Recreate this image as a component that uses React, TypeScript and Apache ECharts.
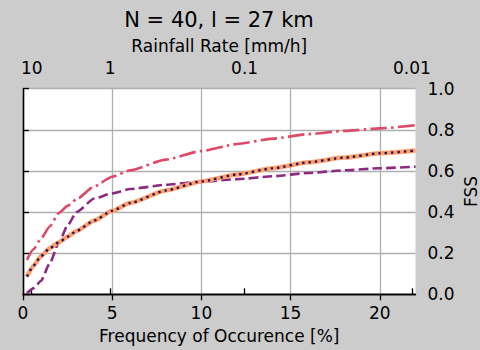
import React, { useEffect, useRef } from "react";
import * as echarts from "echarts";

// Frequency of occurrence [%] at each rain-rate threshold
const freq = [0.22, 0.6, 1.0, 1.5, 2.0, 2.5, 3.0, 4.0, 5.0, 6.0, 8.0, 10.0, 12.0, 14.0, 16.0, 18.0, 20.0, 22.0];

// FSS curves
const fssDashDot = [0.167, 0.22, 0.27, 0.33, 0.395, 0.43, 0.463, 0.525, 0.572, 0.603, 0.655, 0.697, 0.731, 0.757, 0.779, 0.795, 0.807, 0.822];
const fssDashed = [0.005, 0.03, 0.065, 0.15, 0.25, 0.335, 0.4, 0.466, 0.491, 0.512, 0.533, 0.548, 0.56, 0.574, 0.59, 0.603, 0.613, 0.621];
const fssSolid = [0.086, 0.14, 0.185, 0.224, 0.252, 0.28, 0.308, 0.359, 0.406, 0.444, 0.505, 0.549, 0.583, 0.613, 0.642, 0.665, 0.686, 0.699];

// Bottom axis ticks
const freqTicks = [0, 5, 10, 15, 20];

// Top axis: rain-rate labels and where they sit on the frequency scale
const rainTickLabels = ["10", "1", "0.1", "0.01"];
const rainTickPos = [0.49, 4.89, 12.42, 21.8];

const FONT = "DejaVu Sans";

const pairs = (ys: number[]) => freq.map((x, i) => [x, ys[i]]);

export default function App() {
  const ref = useRef<HTMLDivElement>(null);

  useEffect(() => {
    if (!ref.current) return;
    const chart = echarts.init(ref.current, undefined, { renderer: "svg", width: 480, height: 350 });

    const axisLine = { show: true, lineStyle: { color: "#000", width: 1.3 } };
    const axisTick = { show: true, inside: false, length: 6, lineStyle: { color: "#000", width: 1.3 } };
    const label = { color: "#000", fontFamily: FONT, fontSize: 17 };
    const nameStyle = { color: "#000", fontFamily: FONT, fontSize: 17 };
    const gridLine = { show: true, lineStyle: { color: "#b0b0b0", width: 1.3 } };

    const lineBase = {
      type: "line" as const,
      showSymbol: false,
      smooth: 0.2,
      smoothMonotone: "x" as const,
      xAxisIndex: 0,
      yAxisIndex: 0,
    };

    chart.setOption({
      animation: false,
      backgroundColor: "#cccccc",
      textStyle: { fontFamily: FONT },
      grid: {
        left: 23,
        top: 88.7,
        width: 392.5,
        height: 205.6,
        outerBoundsMode: "none",
        containLabel: false,
        show: true,
        backgroundColor: "#ffffff",
        borderWidth: 0,
      },
      graphic: [
        {
          type: "text",
          x: 219,
          y: 20,
          style: {
            text: "N = 40, l = 27 km",
            fill: "#000",
            font: `21px "${FONT}"`,
            textAlign: "center",
            textVerticalAlign: "middle",
          },
        },
        {
          // right-hand axis title, reading bottom to top
          type: "text",
          x: 471,
          y: 191.5,
          rotation: Math.PI / 2,
          style: {
            text: "FSS",
            fill: "#000",
            font: `17px "${FONT}"`,
            textAlign: "center",
            textVerticalAlign: "middle",
          },
        },
      ],
      xAxis: [
        {
          type: "value",
          position: "bottom",
          min: 0,
          max: 22,
          interval: 5,
          name: "Frequency of Occurence [%]",
          nameLocation: "middle",
          nameGap: 33,
          nameTextStyle: nameStyle,
          axisLine,
          axisTick: { ...axisTick, customValues: freqTicks },
          axisLabel: { ...label, margin: 10, customValues: freqTicks },
          splitLine: gridLine,
        },
        {
          type: "value",
          position: "top",
          min: 0,
          max: 22,
          name: "Rainfall Rate [mm/h]",
          nameLocation: "middle",
          nameGap: 34,
          nameTextStyle: nameStyle,
          axisLine,
          axisTick: { ...axisTick, customValues: rainTickPos },
          axisLabel: {
            ...label,
            margin: 12,
            customValues: rainTickPos,
            formatter: (v: number) => {
              const i = rainTickPos.findIndex((p) => Math.abs(p - v) < 1e-6);
              return i >= 0 ? rainTickLabels[i] : "";
            },
          },
          splitLine: { show: false },
        },
      ],
      yAxis: [
        {
          type: "value",
          position: "right",
          min: 0,
          max: 1,
          interval: 0.2,
          axisLine,
          axisTick,
          axisLabel: { ...label, margin: 12, formatter: (v: number) => v.toFixed(1) },
          splitLine: gridLine,
        },
        {
          type: "value",
          position: "left",
          min: 0,
          max: 1,
          axisLine,
          axisTick: { show: false },
          axisLabel: { show: false },
          splitLine: { show: false },
        },
      ],
      series: [
        {
          ...lineBase,
          name: "dash-dot",
          data: pairs(fssDashDot),
          lineStyle: { color: "#de4968", width: 2.6, type: [16.6, 4.2, 2.6, 4.2] },
        },
        {
          ...lineBase,
          name: "dashed",
          data: pairs(fssDashed),
          lineStyle: { color: "#8c2981", width: 2.6, type: [9.6, 4.2] },
        },
        {
          ...lineBase,
          name: "solid",
          data: pairs(fssSolid),
          lineStyle: { color: "#fe9f6d", width: 4.5, type: "solid" },
        },
        {
          ...lineBase,
          name: "dotted",
          data: pairs(fssSolid),
          lineStyle: { color: "#221150", width: 2.4, type: [2.4, 4.0] },
        },
      ],
    });

    return () => chart.dispose();
  }, []);

  return (
    <div
      ref={ref}
      style={{ position: "fixed", left: 0, top: 0, width: 480, height: 350 }}
    />
  );
}
